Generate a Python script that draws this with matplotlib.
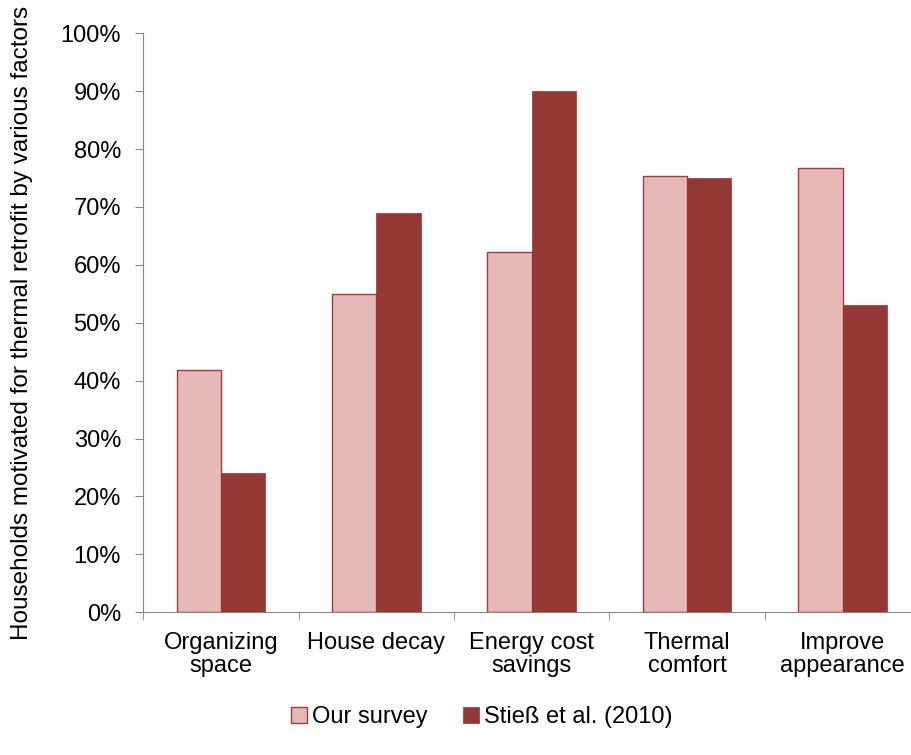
import numpy as np
from matplotlib import pyplot as plt

plt.rcParams['font.family'] = ['Liberation Sans', 'DejaVu Sans']

categories = ["Organizing\nspace", "House decay", "Energy cost\nsavings", "Thermal\ncomfort", "Improve\nappearance"]
our_survey = [41.8, 54.9, 62.3, 75.3, 76.8]
stiess = [24.0, 69.0, 90.0, 75.0, 53.0]
labels = ["Our survey", "Stieß et al. (2010)"]

fig = plt.figure(figsize=(9.12, 7.55), dpi=100)
ax = fig.add_axes([0.157, 0.189, 0.852, 0.767])

x = np.arange(len(categories))
w = 0.285
ax.bar(x - w/2, our_survey, w, color='#e6b8b7', edgecolor='#a33b3b', linewidth=1, label=labels[0])
ax.bar(x + w/2, stiess, w, color='#953735', edgecolor='#953735', linewidth=0.5, label=labels[1])

fs = 17
ax.set_xlim(-0.5, len(categories) - 0.5)
ax.set_ylim(0, 100)
ax.set_yticks(range(0, 101, 10))
ax.set_yticklabels([f"{v}%" for v in range(0, 101, 10)], fontsize=fs)
ax.set_xticks(x)
ax.set_xticklabels(categories, fontsize=fs, linespacing=1.05)
ax.set_xticks(np.arange(-0.5, len(categories), 1), minor=True)
ax.tick_params(axis='x', which='major', length=0, pad=14)
ax.tick_params(axis='x', which='minor', length=6, color='#868686', direction='out')
ax.tick_params(axis='y', length=6, color='#868686', direction='out', pad=10)
for s in ['top', 'right']:
	ax.spines[s].set_visible(False)
ax.spines['left'].set_color('#868686')
ax.spines['bottom'].set_color('#868686')
ax.set_ylabel('Households motivated for thermal retrofit by various factors', fontsize=17.5)
ax.yaxis.set_label_coords(-0.142, 0.5)

fig.legend(loc='center', bbox_to_anchor=(0.528, 0.05), ncol=2, frameon=False, fontsize=fs,
	handlelength=0.7, handleheight=0.7, handletextpad=0.2, columnspacing=1.5)

fig.savefig('out.png', dpi=100)
